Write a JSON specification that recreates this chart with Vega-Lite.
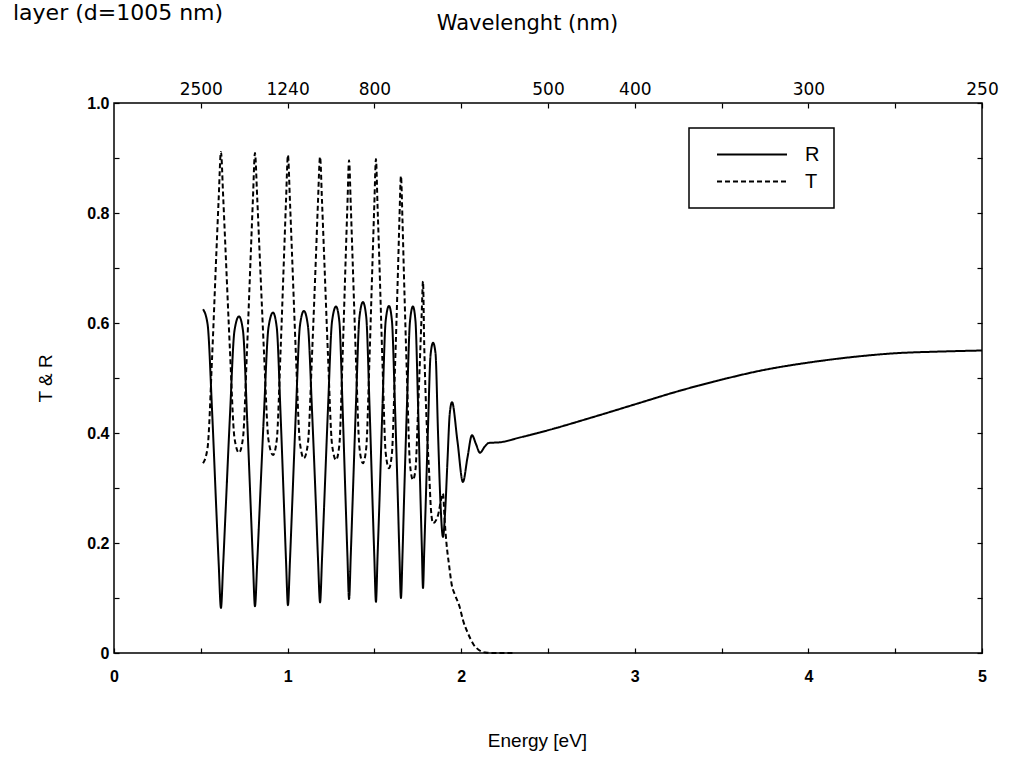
{
 "$schema": "https://vega.github.io/schema/vega-lite/v6.json",
 "width": 868, "height": 550,
 "autosize": {"type": "none"},
 "padding": {"left": 114, "top": 103, "right": 45, "bottom": 127},
 "background": "white",
 "title": {"text": "layer (d=1005 nm)", "anchor": "start", "frame": "group", "font": "DejaVu Sans", "fontSize": 22, "fontWeight": "normal", "color": "black", "dx": -101, "dy": 17},
 "config": {
  "view": {"stroke": "black", "strokeWidth": 1.5},
  "axis": {"grid": false, "domain": false, "tickColor": "black", "tickWidth": 1.2, "tickSize": -5, "labelColor": "black", "titleColor": "black", "labelFlush": false, "labelOverlap": false, "titleFontWeight": "normal"},
  "legend": {"strokeWidth": 1.5}
 },
 "data": {"values": [
  {"s":"R","E":0.513,"V":0.625},{"s":"R","E":0.539,"V":0.598},{"s":"R","E":0.565,"V":0.44},{"s":"R","E":0.59,"V":0.256},{"s":"R","E":0.603,"V":0.163},{"s":"R","E":0.616,"V":0.082},
  {"s":"R","E":0.629,"V":0.162},{"s":"R","E":0.642,"V":0.252},{"s":"R","E":0.668,"V":0.432},{"s":"R","E":0.694,"V":0.586},{"s":"R","E":0.72,"V":0.612},
  {"s":"R","E":0.743,"V":0.586},{"s":"R","E":0.766,"V":0.433},{"s":"R","E":0.789,"V":0.254},{"s":"R","E":0.8005,"V":0.164},{"s":"R","E":0.812,"V":0.085},
  {"s":"R","E":0.825,"V":0.165},{"s":"R","E":0.838,"V":0.256},{"s":"R","E":0.864,"V":0.437},{"s":"R","E":0.89,"V":0.592},{"s":"R","E":0.916,"V":0.619},
  {"s":"R","E":0.9375,"V":0.592},{"s":"R","E":0.959,"V":0.438},{"s":"R","E":0.9805,"V":0.257},{"s":"R","E":0.991,"V":0.167},{"s":"R","E":1.002,"V":0.087},
  {"s":"R","E":1.0135,"V":0.167},{"s":"R","E":1.025,"V":0.258},{"s":"R","E":1.048,"V":0.44},{"s":"R","E":1.071,"V":0.595},{"s":"R","E":1.094,"V":0.622},
  {"s":"R","E":1.117,"V":0.595},{"s":"R","E":1.1405,"V":0.442},{"s":"R","E":1.164,"V":0.262},{"s":"R","E":1.175,"V":0.172},{"s":"R","E":1.187,"V":0.092},
  {"s":"R","E":1.1985,"V":0.173},{"s":"R","E":1.21,"V":0.264},{"s":"R","E":1.233,"V":0.447},{"s":"R","E":1.256,"V":0.603},{"s":"R","E":1.279,"V":0.63},
  {"s":"R","E":1.298,"V":0.603},{"s":"R","E":1.3165,"V":0.449},{"s":"R","E":1.335,"V":0.268},{"s":"R","E":1.3445,"V":0.178},{"s":"R","E":1.354,"V":0.098},
  {"s":"R","E":1.364,"V":0.179},{"s":"R","E":1.374,"V":0.271},{"s":"R","E":1.394,"V":0.454},{"s":"R","E":1.414,"V":0.611},{"s":"R","E":1.434,"V":0.638},
  {"s":"R","E":1.453,"V":0.611},{"s":"R","E":1.4715,"V":0.453},{"s":"R","E":1.49,"V":0.267},{"s":"R","E":1.4995,"V":0.175},{"s":"R","E":1.509,"V":0.093},
  {"s":"R","E":1.518,"V":0.174},{"s":"R","E":1.528,"V":0.265},{"s":"R","E":1.5465,"V":0.448},{"s":"R","E":1.565,"V":0.604},{"s":"R","E":1.584,"V":0.631},
  {"s":"R","E":1.601,"V":0.604},{"s":"R","E":1.6185,"V":0.45},{"s":"R","E":1.636,"V":0.27},{"s":"R","E":1.644,"V":0.18},{"s":"R","E":1.653,"V":0.1},
  {"s":"R","E":1.662,"V":0.18},{"s":"R","E":1.67,"V":0.27},{"s":"R","E":1.6875,"V":0.45},{"s":"R","E":1.705,"V":0.603},{"s":"R","E":1.722,"V":0.63},
  {"s":"R","E":1.7365,"V":0.604},{"s":"R","E":1.751,"V":0.456},{"s":"R","E":1.7655,"V":0.282},{"s":"R","E":1.773,"V":0.195},{"s":"R","E":1.78,"V":0.118},
  {"s":"R","E":1.787,"V":0.185},{"s":"R","E":1.7945,"V":0.261},{"s":"R","E":1.809,"V":0.412},{"s":"R","E":1.8235,"V":0.542},{"s":"R","E":1.838,"V":0.564},
  {"s":"R","E":1.852,"V":0.545},{"s":"R","E":1.8665,"V":0.4},{"s":"R","E":1.881,"V":0.27},{"s":"R","E":1.895,"V":0.211},
  {"s":"R","E":1.908,"V":0.26},{"s":"R","E":1.921,"V":0.35},{"s":"R","E":1.934,"V":0.435},{"s":"R","E":1.947,"V":0.456},
  {"s":"R","E":1.9785,"V":0.385},{"s":"R","E":2.01,"V":0.311},{"s":"R","E":2.036,"V":0.355},{"s":"R","E":2.062,"V":0.396},
  {"s":"R","E":2.085,"V":0.38},{"s":"R","E":2.108,"V":0.364},{"s":"R","E":2.135,"V":0.375},{"s":"R","E":2.16,"V":0.382},
  {"s":"R","E":2.22,"V":0.383},{"s":"R","E":2.34,"V":0.392},{"s":"R","E":2.5,"V":0.405},{"s":"R","E":2.75,"V":0.428},{"s":"R","E":3.0,"V":0.452},
  {"s":"R","E":3.25,"V":0.476},{"s":"R","E":3.5,"V":0.497},{"s":"R","E":3.75,"V":0.515},{"s":"R","E":4.0,"V":0.528},{"s":"R","E":4.25,"V":0.538},
  {"s":"R","E":4.5,"V":0.545},{"s":"R","E":4.75,"V":0.548},{"s":"R","E":5.0,"V":0.55},
  {"s":"T","E":0.513,"V":0.345},{"s":"T","E":0.539,"V":0.373},{"s":"T","E":0.565,"V":0.537},{"s":"T","E":0.59,"V":0.73},{"s":"T","E":0.603,"V":0.826},{"s":"T","E":0.616,"V":0.911},
  {"s":"T","E":0.629,"V":0.829},{"s":"T","E":0.642,"V":0.736},{"s":"T","E":0.668,"V":0.55},{"s":"T","E":0.694,"V":0.391},{"s":"T","E":0.72,"V":0.364},
  {"s":"T","E":0.743,"V":0.391},{"s":"T","E":0.766,"V":0.549},{"s":"T","E":0.789,"V":0.735},{"s":"T","E":0.8005,"V":0.827},{"s":"T","E":0.812,"V":0.909},
  {"s":"T","E":0.825,"V":0.827},{"s":"T","E":0.838,"V":0.733},{"s":"T","E":0.864,"V":0.547},{"s":"T","E":0.89,"V":0.387},{"s":"T","E":0.916,"V":0.36},
  {"s":"T","E":0.9375,"V":0.387},{"s":"T","E":0.959,"V":0.545},{"s":"T","E":0.9805,"V":0.731},{"s":"T","E":0.991,"V":0.823},{"s":"T","E":1.002,"V":0.905},
  {"s":"T","E":1.0135,"V":0.822},{"s":"T","E":1.025,"V":0.729},{"s":"T","E":1.048,"V":0.541},{"s":"T","E":1.071,"V":0.382},{"s":"T","E":1.094,"V":0.354},
  {"s":"T","E":1.117,"V":0.381},{"s":"T","E":1.1405,"V":0.54},{"s":"T","E":1.164,"V":0.727},{"s":"T","E":1.175,"V":0.82},{"s":"T","E":1.187,"V":0.902},
  {"s":"T","E":1.1985,"V":0.819},{"s":"T","E":1.21,"V":0.726},{"s":"T","E":1.233,"V":0.538},{"s":"T","E":1.256,"V":0.379},{"s":"T","E":1.279,"V":0.351},
  {"s":"T","E":1.298,"V":0.378},{"s":"T","E":1.3165,"V":0.536},{"s":"T","E":1.335,"V":0.722},{"s":"T","E":1.3445,"V":0.814},{"s":"T","E":1.354,"V":0.896},
  {"s":"T","E":1.364,"V":0.813},{"s":"T","E":1.374,"V":0.72},{"s":"T","E":1.394,"V":0.532},{"s":"T","E":1.414,"V":0.373},{"s":"T","E":1.434,"V":0.345},
  {"s":"T","E":1.453,"V":0.373},{"s":"T","E":1.4715,"V":0.533},{"s":"T","E":1.49,"V":0.721},{"s":"T","E":1.4995,"V":0.815},{"s":"T","E":1.509,"V":0.898},
  {"s":"T","E":1.518,"V":0.814},{"s":"T","E":1.528,"V":0.718},{"s":"T","E":1.5465,"V":0.527},{"s":"T","E":1.565,"V":0.364},{"s":"T","E":1.584,"V":0.336},
  {"s":"T","E":1.601,"V":0.363},{"s":"T","E":1.6185,"V":0.517},{"s":"T","E":1.636,"V":0.697},{"s":"T","E":1.644,"V":0.787},{"s":"T","E":1.653,"V":0.867},
  {"s":"T","E":1.662,"V":0.784},{"s":"T","E":1.67,"V":0.69},{"s":"T","E":1.6875,"V":0.503},{"s":"T","E":1.705,"V":0.343},{"s":"T","E":1.722,"V":0.315},
  {"s":"T","E":1.7365,"V":0.333},{"s":"T","E":1.751,"V":0.438},{"s":"T","E":1.7655,"V":0.56},{"s":"T","E":1.773,"V":0.622},{"s":"T","E":1.78,"V":0.676},
  {"s":"T","E":1.787,"V":0.56},{"s":"T","E":1.795,"V":0.47},{"s":"T","E":1.805,"V":0.39},{"s":"T","E":1.815,"V":0.33},{"s":"T","E":1.826,"V":0.26},{"s":"T","E":1.838,"V":0.236},
  {"s":"T","E":1.866,"V":0.25},{"s":"T","E":1.885,"V":0.28},{"s":"T","E":1.895,"V":0.29},{"s":"T","E":1.905,"V":0.24},{"s":"T","E":1.915,"V":0.2},
  {"s":"T","E":1.93,"V":0.16},{"s":"T","E":1.945,"V":0.125},{"s":"T","E":1.965,"V":0.105},{"s":"T","E":1.99,"V":0.085},{"s":"T","E":2.01,"V":0.06},
  {"s":"T","E":2.04,"V":0.035},{"s":"T","E":2.07,"V":0.016},{"s":"T","E":2.1,"V":0.006},{"s":"T","E":2.14,"V":0.001},{"s":"T","E":2.2,"V":0},{"s":"T","E":2.3,"V":0}
 ]},
 "layer": [
  {
   "mark": {"type": "line", "interpolate": "monotone", "color": "black", "strokeWidth": 2},
   "encoding": {
    "x": {"field": "E", "type": "quantitative", "scale": {"domain": [0, 5], "nice": false},
     "axis": {"orient": "bottom", "values": [0,0.5,1,1.5,2,2.5,3,3.5,4,4.5,5],
      "labelExpr": "datum.value % 1 == 0 ? format(datum.value, 'd') : ''",
      "labelFont": "Liberation Sans Narrow, Liberation Sans", "labelFontWeight": "bold", "labelFontSize": 16, "labelPadding": 20,
      "title": "Energy [eV]", "titleFont": "Liberation Sans", "titleFontSize": 19, "titleX": 423, "titleY": 87, "titleBaseline": "middle", "titleAlign": "center"}},
    "y": {"field": "V", "type": "quantitative", "scale": {"domain": [0, 1], "nice": false},
     "axis": {"orient": "left", "values": [0,0.1,0.2,0.3,0.4,0.5,0.6,0.7,0.8,0.9,1],
      "labelExpr": "datum.value == 0 ? '0' : (round(datum.value * 10) % 2 == 0 ? format(datum.value, '.1f') : '')",
      "labelFont": "Liberation Sans Narrow, Liberation Sans", "labelFontWeight": "bold", "labelFontSize": 16, "labelPadding": 10,
      "title": "T & R", "titleFont": "Liberation Sans", "titleFontSize": 19, "titleX": -69, "titleY": 275, "titleAngle": -90, "titleBaseline": "middle", "titleAlign": "center"}},
    "strokeDash": {"field": "s", "type": "nominal", "scale": {"domain": ["R", "T"], "range": [[1, 0], [5, 3]]},
     "legend": {"title": null, "orient": "none", "legendX": 575, "legendY": 25, "symbolType": "stroke", "symbolSize": 4900, "symbolStrokeWidth": 2, "symbolStrokeColor": "black",
      "clipHeight": 25, "rowPadding": 2, "padding": 14, "symbolOffset": 13, "labelOffset": 17, "labelFontSize": 20, "labelFont": "Liberation Sans", "labelColor": "black", "strokeColor": "black", "fillColor": "white"}}
   }
  },
  {
   "mark": {"type": "line", "opacity": 0},
   "encoding": {
    "x": {"field": "E", "type": "quantitative", "scale": {"domain": [0, 5], "nice": false},
     "axis": {"orient": "top", "values": [0.5,1,1.5,2,2.5,3,3.5,4,4.5,5],
      "labelExpr": "datum.value == 0.5 ? '2500' : datum.value == 1 ? '1240' : datum.value == 1.5 ? '800' : datum.value == 2.5 ? '500' : datum.value == 3 ? '400' : datum.value == 4 ? '300' : datum.value == 5 ? '250' : ''",
      "labelFont": "DejaVu Sans", "labelFontSize": 17, "labelPadding": 10,
      "title": "Wavelenght (nm)", "titleFont": "DejaVu Sans", "titleFontSize": 21, "titleX": 413, "titleY": -80, "titleBaseline": "middle", "titleAlign": "center"}},
    "y": {"field": "V", "type": "quantitative", "scale": {"domain": [0, 1], "nice": false},
     "axis": {"orient": "right", "values": [0,0.1,0.2,0.3,0.4,0.5,0.6,0.7,0.8,0.9,1], "labels": false, "title": null}},
    "detail": {"field": "s", "type": "nominal"}
   }
  }
 ],
 "resolve": {"axis": {"x": "independent", "y": "independent"}}
}
